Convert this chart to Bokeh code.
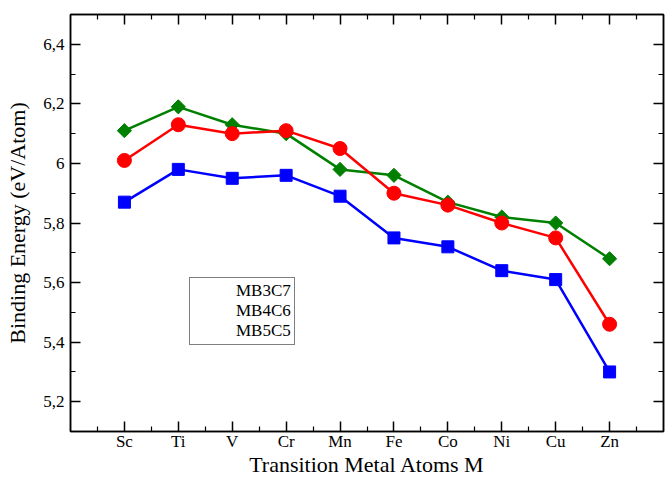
from bokeh.plotting import figure
from bokeh.models import FixedTicker, LinearAxis, Range1d, Legend, LegendItem
from bokeh.embed import file_html
from bokeh.resources import INLINE
import math

elements = ["Sc", "Ti", "V", "Cr", "Mn", "Fe", "Co", "Ni", "Cu", "Zn"]
mb3c7 = [6.11, 6.19, 6.13, 6.10, 5.98, 5.96, 5.87, 5.82, 5.80, 5.68]
mb4c6 = [6.01, 6.13, 6.10, 6.11, 6.05, 5.90, 5.86, 5.80, 5.75, 5.46]
mb5c5 = [5.87, 5.98, 5.95, 5.96, 5.89, 5.75, 5.72, 5.64, 5.61, 5.30]
y_ticks = [5.2, 5.4, 5.6, 5.8, 6.0, 6.2, 6.4]
y_tick_labels = ["5,2", "5,4", "5,6", "5,8", "6", "6,2", "6,4"]
y_minor = [5.1, 5.2, 5.3, 5.4, 5.5, 5.6, 5.7, 5.8, 5.9, 6.0, 6.1, 6.2, 6.3, 6.4, 6.5]

xs = list(range(1, len(elements) + 1))
x_minor = [i + 0.5 for i in range(0, len(elements) + 1)]

FONT = "Liberation Serif"

p = figure(width=665, height=479, output_backend="svg", toolbar_location=None,
           x_range=Range1d(0, 11), y_range=Range1d(5.1, 6.5),
           min_border_left=70, min_border_right=2, min_border_top=14, min_border_bottom=48,
           x_axis_label="Transition Metal Atoms M", y_axis_label="Binding Energy (eV/Atom)")
p.xgrid.visible = False
p.ygrid.visible = False
p.outline_line_color = "black"
p.outline_line_width = 1.5
p.background_fill_color = "white"
p.border_fill_color = "white"

xt = FixedTicker(ticks=xs, minor_ticks=x_minor)
yt = FixedTicker(ticks=y_ticks, minor_ticks=y_minor)

def style_axis(ax, ticker, labels=True):
    ax.ticker = ticker
    ax.major_tick_in = 10
    ax.major_tick_out = 0
    ax.minor_tick_in = 5
    ax.minor_tick_out = 0
    ax.major_tick_line_width = 1.5
    ax.minor_tick_line_width = 1.2
    ax.axis_line_width = 1.5
    ax.axis_line_color = "black"
    ax.major_tick_line_color = "black"
    ax.minor_tick_line_color = "black"
    ax.major_label_text_font = FONT
    ax.major_label_text_font_size = "17px"
    ax.major_label_text_color = "black"
    ax.axis_label_text_font = FONT
    ax.axis_label_text_font_size = "22px"
    ax.axis_label_text_font_style = "normal"
    ax.axis_label_text_color = "black"
    if not labels:
        ax.major_label_standoff = 0

xa = p.xaxis[0]
style_axis(xa, xt)
xa.major_label_overrides = {x: e for x, e in zip(xs, elements)}
xa.major_label_standoff = 0
xa.axis_label_standoff = -2

ya = p.yaxis[0]
style_axis(ya, yt)
ya.major_label_overrides = {t: l for t, l in zip(y_ticks, y_tick_labels)}
ya.major_label_standoff = 6
ya.axis_label_standoff = 10

ra = LinearAxis()
style_axis(ra, FixedTicker(ticks=y_ticks, minor_ticks=y_minor), labels=False)
ra.major_label_overrides = {t: "" for t in y_ticks}
p.add_layout(ra, "right")
ta = LinearAxis()
style_axis(ta, FixedTicker(ticks=xs, minor_ticks=x_minor), labels=False)
ta.major_label_overrides = {x: "" for x in xs}
p.add_layout(ta, "above")

# (name, values, colour, plot marker, plot size, angle, legend marker, legend size)
series = [("MB3C7", mb3c7, "#008000", "square", 10, math.pi / 4, "diamond", 15),
          ("MB4C6", mb4c6, "#ff0000", "circle", 14, 0, "circle", 13),
          ("MB5C5", mb5c5, "#0000ff", "square", 12, 0, "square", 12)]
items = []
for name, ys, col, mk, sz, ang, lmk, lsz in series:
    p.line(xs, ys, line_color=col, line_width=2.5)
    p.scatter(xs, ys, marker=mk, size=sz, angle=ang,
              fill_color=col, line_color=col)
    # legend-only swatches (no data)
    lln = p.line(x=[], y=[], line_color=col, line_width=2)
    lsc = p.scatter(x=[], y=[], marker=lmk, size=lsz,
                    fill_color=col, line_color=col)
    items.append(LegendItem(label=name, renderers=[lln, lsc]))

leg = Legend(items=items, location=(119, 86))
leg.label_text_font = FONT
leg.label_text_font_size = "17px"
leg.label_text_color = "black"
leg.glyph_width = 38
leg.glyph_height = 16
leg.label_height = 16
leg.spacing = 0
leg.padding = 3
leg.margin = 0
leg.label_standoff = 5
leg.border_line_color = "black"
leg.border_line_width = 1.5
leg.background_fill_alpha = 1
p.add_layout(leg, "center")

open("out.html", "w").write(file_html(p, INLINE))
